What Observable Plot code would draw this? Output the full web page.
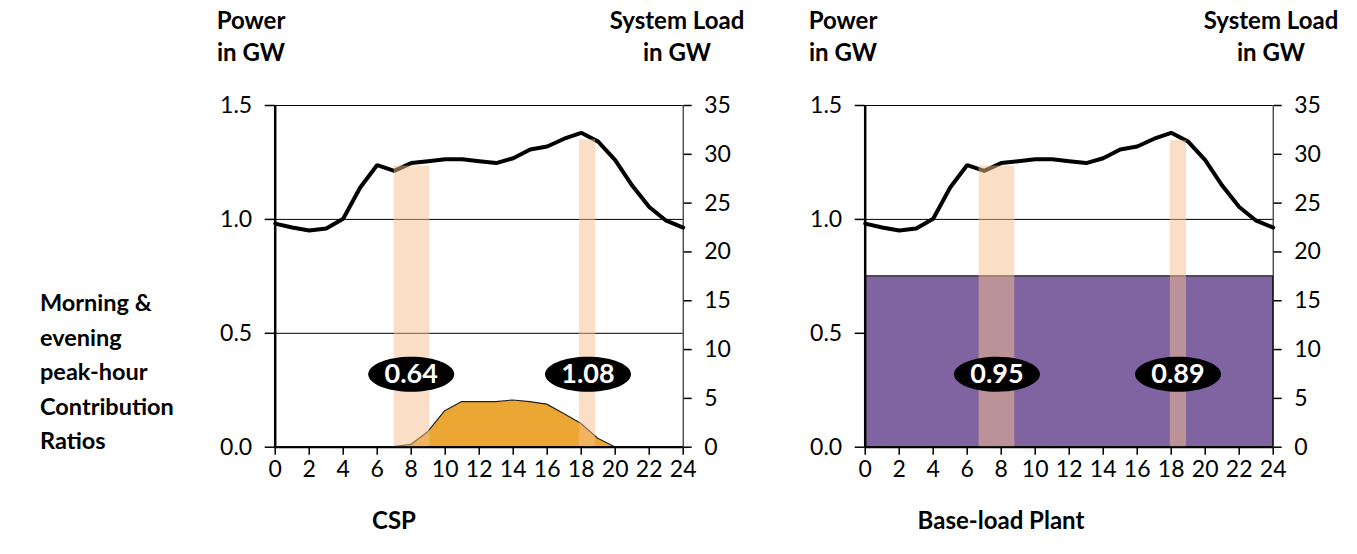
<!DOCTYPE html>
<html><head><meta charset="utf-8">
<script src="https://cdn.jsdelivr.net/npm/d3@7"></script>
<script src="https://cdn.jsdelivr.net/npm/@observablehq/plot@0.6"></script>
<style>
body{margin:0;background:#fff;font-family:Lato,sans-serif;}
#root{position:relative;width:1357px;height:554px;overflow:hidden;background:#fff;}
.t{position:absolute;font-weight:bold;font-size:24px;color:#000;text-align:center;line-height:32px;white-space:nowrap;transform:translateX(-50%);}
.side{position:absolute;left:40px;top:285px;font-weight:bold;font-size:23.5px;line-height:34.5px;color:#000;white-space:nowrap;}
.p{position:absolute;top:0;width:767px;height:500px;}
</style></head><body><div id="root"></div>
<script>
// ---- data ----
const hours = [0,1,2,3,4,5,6,7,8,9,10,11,12,13,14,15,16,17,18,19,20,21,22,23,24];
const systemLoadGW = [22.9,22.5,22.2,22.4,23.4,26.6,28.9,28.3,29.1,29.3,29.5,29.5,29.3,29.1,29.6,30.5,30.8,31.6,32.2,31.3,29.4,26.8,24.6,23.2,22.5];
const cspPowerGW = [0,0,0,0,0,0,0,0,0.01,0.066,0.158,0.198,0.198,0.198,0.205,0.198,0.187,0.146,0.103,0.037,0,0,0,0,0];
const baseLoadPowerGW = [0.75,0.75,0.75,0.75,0.75,0.75,0.75,0.75,0.75,0.75,0.75,0.75,0.75,0.75,0.75,0.75,0.75,0.75,0.75,0.75,0.75,0.75,0.75,0.75,0.75];
const panelTitles = ["CSP", "Base-load Plant"];
const cspBandStart = [7, 17.9];
const cspBandEnd = [9.1, 18.85];
const cspBandTopGW = [28.8, 31.5];
const cspRatios = ["0.64", "1.08"];
const cspRatioHour = [8, 18.4];
const baseBandStart = [6.7, 17.95];
const baseBandEnd = [8.8, 18.9];
const baseBandTopGW = [28.8, 31.4];
const baseRatios = ["0.95", "0.89"];
const baseRatioHour = [7.75, 18.4];
const hourTicks = [0,2,4,6,8,10,12,14,16,18,20,22,24];
const powerTicks = [0, 0.5, 1.0, 1.5];
const loadTicks = [0,5,10,15,20,25,30,35];
const powerGrid = [0.5, 1.0, 1.5];

// ---- helpers ----
const POWER_MAX = 1.5, LOAD_MAX = 35, LABEL_Y = 0.32;
const loadToPower = v => v * POWER_MAX / LOAD_MAX;
const ellipse = {draw(ctx){
  const rx = 43, ry = 17.5, k = 0.5523;
  ctx.moveTo(rx, 0);
  ctx.bezierCurveTo(rx, ry*k, rx*k, ry, 0, ry);
  ctx.bezierCurveTo(-rx*k, ry, -rx, ry*k, -rx, 0);
  ctx.bezierCurveTo(-rx, -ry*k, -rx*k, -ry, 0, -ry);
  ctx.bezierCurveTo(rx*k, -ry, rx, -ry*k, rx, 0);
  ctx.closePath();
}};

function panel(power, fill, bStart, bEnd, bTop, ratios, ratioHour){
  const rows = hours.map((h,i) => ({h, load: loadToPower(systemLoadGW[i]), power: power[i]}));
  const bands = bStart.map((s,i) => ({x1: s, x2: bEnd[i], y2: loadToPower(bTop[i])}));
  const labels = ratios.map((r,i) => ({x: ratioHour[i], text: r}));
  return Plot.plot({
    width: 767, height: 500,
    marginLeft: 274.7, marginRight: 84.3, marginTop: 105, marginBottom: 53.3,
    x: {domain: [0, 24], label: null},
    y: {domain: [0, POWER_MAX], label: null},
    style: {fontFamily: "Lato, sans-serif", fontSize: "23px", color: "#000", background: "transparent", overflow: "visible"},
    marks: [
      Plot.ruleY(powerGrid, {stroke: "#000", strokeWidth: 1}),
      Plot.areaY(rows, {x: "h", y: "power", fill, stroke: "#222", strokeWidth: 1.2}),
      Plot.lineY(rows, {x: "h", y: "load", stroke: "#000", strokeWidth: 4, strokeLinejoin: "miter"}),
      Plot.rect(bands, {x1: "x1", x2: "x2", y1: 0, y2: "y2", fill: "#F6BF8D", fillOpacity: 0.5}),
      Plot.ruleX([24], {stroke: "#000", strokeWidth: 1}),
      Plot.ruleY([0], {stroke: "#000", strokeWidth: 2}),
      Plot.ruleX([0], {stroke: "#000", strokeWidth: 2.5}),
      Plot.axisY(powerTicks, {anchor: "left", tickSize: 10, tickPadding: 13, strokeWidth: 1.5, tickFormat: d => d.toFixed(1), label: null}),
      Plot.axisY(loadTicks.map(loadToPower), {anchor: "right", tickSize: 8, tickPadding: 13, strokeWidth: 1.5, tickFormat: d => String(Math.round(d * LOAD_MAX / POWER_MAX)), label: null}),
      Plot.axisX(hourTicks, {anchor: "bottom", tickSize: 8, tickPadding: 5, strokeWidth: 1.5, label: null}),
      Plot.dot(labels, {x: "x", y: LABEL_Y, symbol: ellipse, fill: "#000", stroke: "none", r: 10}),
      Plot.text(labels, {x: "x", y: LABEL_Y, text: "text", fill: "#fff", fontWeight: "bold", fontSize: 27})
    ]
  });
}

const root = document.getElementById("root");
function addDiv(cls, html, left, top){
  const d = document.createElement("div");
  d.className = cls; d.innerHTML = html;
  d.style.left = left + "px"; d.style.top = top + "px";
  root.appendChild(d); return d;
}
const p1 = addDiv("p", "", 0, 0);
p1.appendChild(panel(cspPowerGW, "#ECA633", cspBandStart, cspBandEnd, cspBandTopGW, cspRatios, cspRatioHour));
const p2 = addDiv("p", "", 590, 0);
p2.appendChild(panel(baseLoadPowerGW, "#8064A2", baseBandStart, baseBandEnd, baseBandTopGW, baseRatios, baseRatioHour));

addDiv("t", "Power<br>in GW", 251, 4);
addDiv("t", "System Load<br>in GW", 677, 4);
addDiv("t", "Power<br>in GW", 843, 4);
addDiv("t", "System Load<br>in GW", 1271, 4);
addDiv("t", panelTitles[0], 394, 504);
addDiv("t", panelTitles[1], 1001, 504);
addDiv("side", "Morning &amp;<br>evening<br>peak-hour<br>Contribution<br>Ratios", 40, 285);
</script></body></html>
